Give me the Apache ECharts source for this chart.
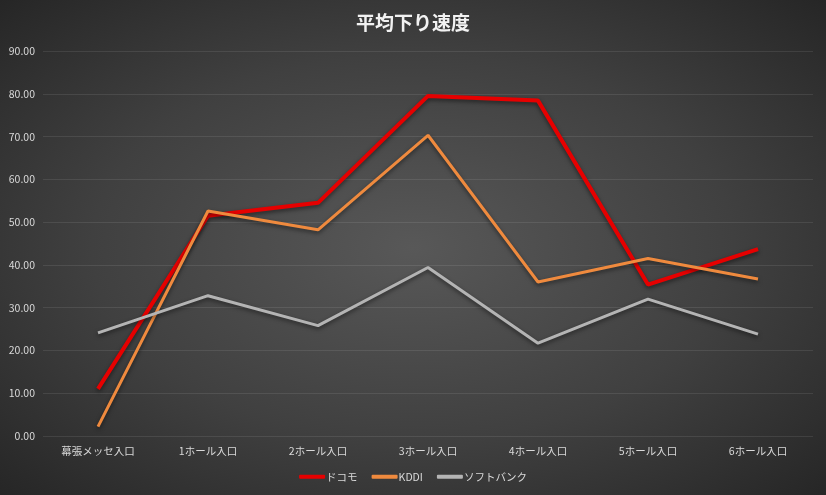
<!DOCTYPE html>
<html>
<head>
<meta charset="utf-8">
<script src="https://cdn.jsdelivr.net/npm/echarts@6/dist/echarts.min.js"></script>
<style>
html, body { margin: 0; padding: 0; }
#main {
	width: 826px; height: 495px;
	background: radial-gradient(ellipse at 50% 50%, #585858 0%, #404040 55%, #262626 100%);
}
</style>
</head>
<body>
<div id="main"></div>
<script>
// 地点
var categories = ['幕張メッセ入口', '1ホール入口', '2ホール入口', '3ホール入口', '4ホール入口', '5ホール入口', '6ホール入口'];
// 各社の平均下り速度
var docomo = [11.0, 51.5, 54.5, 79.5, 78.4, 35.4, 43.7];
var kddi = [2.2, 52.6, 48.2, 70.3, 36.0, 41.5, 36.7];
var softbank = [24.1, 32.8, 25.8, 39.4, 21.7, 32.0, 23.8];

var myChart = echarts.init(document.getElementById('main'));
var font = '"Noto Sans CJK JP", "Noto Sans", sans-serif';
var option = {
	backgroundColor: 'transparent',
	title: {
		text: '平均下り速度',
		left: 'center',
		top: 8,
		textStyle: { color: '#f2f2f2', fontSize: 19, fontWeight: 'bold', fontFamily: font }
	},
	legend: {
		bottom: 8,
		left: 'center',
		itemWidth: 26,
		itemHeight: 4,
		itemGap: 14,
		icon: 'roundRect',
		textStyle: { color: '#d9d9d9', fontSize: 10.5, fontFamily: font, padding: [0, 0, 0, -4] },
		data: ['ドコモ', 'KDDI', 'ソフトバンク']
	},
	grid: { left: 43, right: 13, top: 51, bottom: 59, containLabel: false },
	xAxis: {
		type: 'category',
		data: categories,
		axisLine: { show: false },
		axisTick: { show: false },
		axisLabel: { color: '#d9d9d9', fontSize: 10.5, margin: 10, fontFamily: font }
	},
	yAxis: {
		type: 'value',
		min: 0, max: 90, interval: 10,
		axisLine: { show: false },
		axisTick: { show: false },
		axisLabel: { color: '#d9d9d9', fontSize: 10.5, fontFamily: font, formatter: function (v) { return v.toFixed(2); } },
		splitLine: { lineStyle: { color: 'rgba(255,255,255,0.09)', width: 1 } }
	},
	series: [
		{
			name: 'ドコモ', type: 'line', data: docomo,
			symbol: 'none', color: '#e60000',
			lineStyle: { width: 4, color: '#e60000', shadowColor: 'rgba(0,0,0,0.5)', shadowBlur: 4, shadowOffsetY: 2 }
		},
		{
			name: 'KDDI', type: 'line', data: kddi,
			symbol: 'none', color: '#ef8a3e',
			lineStyle: { width: 3, color: '#ef8a3e', shadowColor: 'rgba(0,0,0,0.5)', shadowBlur: 4, shadowOffsetY: 2 }
		},
		{
			name: 'ソフトバンク', type: 'line', data: softbank,
			symbol: 'none', color: '#b4b4b4',
			lineStyle: { width: 3, color: '#b4b4b4', shadowColor: 'rgba(0,0,0,0.5)', shadowBlur: 4, shadowOffsetY: 2 }
		}
	]
};
myChart.setOption(option);
</script>
</body>
</html>
